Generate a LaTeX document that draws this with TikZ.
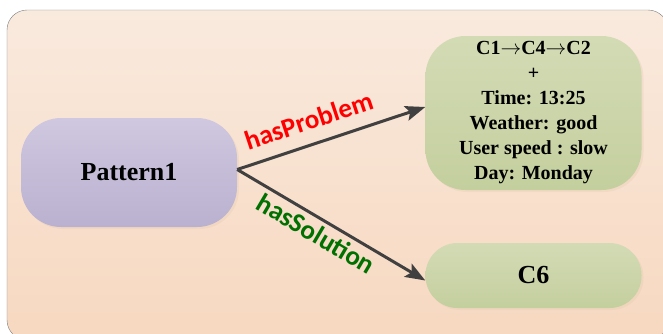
\documentclass[tikz,border=0pt]{standalone}
\usepackage{fontspec}
\setmainfont{Liberation Serif}
\newfontfamily\lblfont{Carlito}
\usetikzlibrary{arrows.meta,shadows}
\definecolor{bgtop}{HTML}{F9EADE}
\definecolor{bgbot}{HTML}{F7D8C0}
\definecolor{pattop}{HTML}{D0C8E0}
\definecolor{patbot}{HTML}{B9B1CF}
\definecolor{grtop}{HTML}{D3DBB5}
\definecolor{grbot}{HTML}{C4CF9E}
\definecolor{arrgray}{HTML}{404040}
\definecolor{solgreen}{HTML}{007000}
\begin{document}
\begin{tikzpicture}[>={Stealth[length=20pt,width=15pt,inset=4pt]},line join=round,x=1pt,y=-1pt,
	box/.style={rounded corners=40pt,align=center,font=\bfseries,
		drop shadow={shadow xshift=2pt,shadow yshift=-2pt,fill=brown!40,opacity=.35}},
	patbox/.style={box,top color=pattop,bottom color=patbot},
	grbox/.style={box,top color=grtop,bottom color=grbot},
	lbl/.style={font=\lblfont\bfseries\fontsize{27}{27}\selectfont,sloped,inner sep=0pt}]
	\useasboundingbox (0,0) rectangle (663,333);
	\draw[rounded corners=20pt,draw=gray,top color=bgtop,bottom color=bgbot] (7,10) rectangle (668,340);
	
	\node[patbox,minimum width=216pt,minimum height=109pt,font=\bfseries\fontsize{26}{30}\selectfont] (pat) at (129,172.5) {Pattern1};
	\node[grbox,minimum width=216pt,minimum height=154pt,font=\bfseries\fontsize{20}{25}\selectfont] (prob) at (533.5,113) {C1$\rightarrow$C4$\rightarrow$C2\\+\\Time: 13:25\\Weather: good\\User speed : slow\\Day: Monday};
	\node[grbox,rounded corners=32pt,minimum width=216pt,minimum height=65pt,font=\bfseries\fontsize{26}{30}\selectfont] (sol) at (533.5,275.5) {C6};
	
	\draw[->,line width=3pt,arrgray] ([yshift=3pt]pat.east) -- ([yshift=6pt]prob.west)
		node[lbl,pos=.42,above=13pt,red]{hasProblem};
	\draw[->,line width=3pt,arrgray] ([yshift=3pt]pat.east) -- ([yshift=-5pt]sol.west)
		node[lbl,pos=.46,below=4pt,solgreen]{hasSolution};
\end{tikzpicture}
\end{document}
